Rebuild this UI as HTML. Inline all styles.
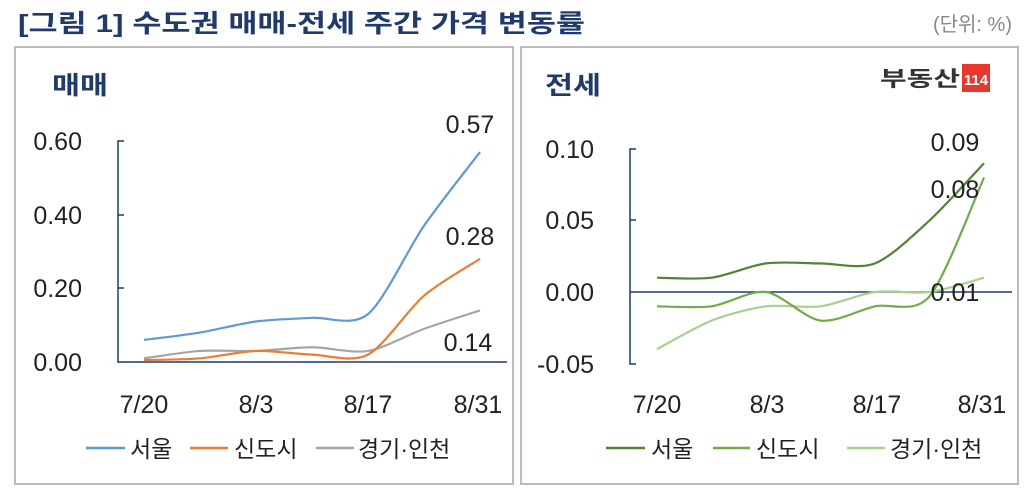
<!DOCTYPE html>
<html><head><meta charset="utf-8"><style>
body{margin:0;background:#fff;width:1024px;height:498px;overflow:hidden;font-family:"Liberation Sans","Noto Sans CJK KR",sans-serif}
svg{position:absolute;left:0;top:0}
</style></head><body>
<svg id="s" width="1024" height="498" xmlns="http://www.w3.org/2000/svg" font-family="Liberation Sans, Noto Sans CJK KR, sans-serif">
<text x="18" y="32" font-size="25" font-weight="bold" fill="#1f3a6e" textLength="567" lengthAdjust="spacingAndGlyphs">[그림 1] 수도권 매매-전세 주간 가격 변동률</text>
<text x="1012" y="31" font-size="20" fill="#888" text-anchor="end">(단위: %)</text>
<rect x="15" y="47" width="498" height="437" fill="none" stroke="#bbb" stroke-width="2"/>
<rect x="521" y="47" width="497" height="437" fill="none" stroke="#bbb" stroke-width="2"/>
<text x="52" y="94" font-size="25" font-weight="bold" fill="#1f3a6e" textLength="56" lengthAdjust="spacingAndGlyphs">매매</text>
<text x="545" y="94" font-size="25" font-weight="bold" fill="#1f3a6e" textLength="56" lengthAdjust="spacingAndGlyphs">전세</text>
<text x="880" y="86" font-size="21" font-weight="bold" fill="#333" textLength="80" lengthAdjust="spacingAndGlyphs">부동산</text>
<rect x="962" y="64" width="28" height="28" fill="#e8372c"/>
<text x="976" y="85" font-size="15" font-weight="bold" fill="#fff" text-anchor="middle">114</text>
<g font-size="25" fill="#222" text-anchor="end">
<text x="82" y="150">0.60</text><text x="82" y="224">0.40</text><text x="82" y="297">0.20</text><text x="82" y="371">0.00</text>
<text x="594" y="158">0.10</text><text x="594" y="229">0.05</text><text x="594" y="301">0.00</text><text x="594" y="373">-0.05</text>
</g>
<g font-size="25" fill="#222" text-anchor="middle">
<text x="144" y="413">7/20</text><text x="256" y="413">8/3</text><text x="368" y="413">8/17</text><text x="478" y="413">8/31</text>
<text x="657" y="413">7/20</text><text x="767" y="413">8/3</text><text x="877" y="413">8/17</text><text x="982" y="413">8/31</text>
</g>
<g stroke="#1f3a6e" stroke-width="1.5" fill="none">
<path d="M124 141H118V362H507"/>
<path d="M118 215H124M118 288H124"/>
<path d="M636 149H630V364H636M630 220H636M630 292H1012"/>
</g>
<g id="lines" fill="none" stroke-width="2.2"></g>
<g font-size="25" fill="#222" text-anchor="middle">
<text x="470" y="133">0.57</text><text x="470" y="245">0.28</text><text x="468" y="351">0.14</text>
<text x="955" y="151">0.09</text><text x="955" y="198">0.08</text><text x="955" y="301">0.01</text>
</g>
<g stroke-width="2.5">
<line x1="86" y1="448" x2="125" y2="448" stroke="#5b9bd5"/>
<line x1="190" y1="448" x2="228" y2="448" stroke="#ed7d31"/>
<line x1="316" y1="448" x2="354" y2="448" stroke="#a5a5a5"/>
<line x1="606" y1="448" x2="645" y2="448" stroke="#548235"/>
<line x1="713" y1="448" x2="750" y2="448" stroke="#70ad47"/>
<line x1="847" y1="448" x2="885" y2="448" stroke="#a9d18e"/>
</g>
<g font-size="23" fill="#222">
<text x="130" y="457">서울</text><text x="234" y="457">신도시</text><text x="358" y="457">경기·인천</text>
<text x="651" y="457">서울</text><text x="756" y="457">신도시</text><text x="890" y="457">경기·인천</text>
</g>
</svg>
<script>
function path(xs,ys){var p=[];for(var i=0;i<xs.length;i++)p.push([xs[i],ys[i]]);
var d="M"+p[0][0]+" "+p[0][1];
for(var i=0;i<p.length-1;i++){var p0=p[i-1]||p[i],p1=p[i],p2=p[i+1],p3=p[i+2]||p2;
var k=7;var c1x=p1[0]+(p2[0]-p0[0])/k,c1y=p1[1]+(p2[1]-p0[1])/k,c2x=p2[0]-(p3[0]-p1[0])/k,c2y=p2[1]-(p3[1]-p1[1])/k;
d+=" C"+c1x+" "+c1y+" "+c2x+" "+c2y+" "+p2[0]+" "+p2[1];}return d;}
var g=document.getElementById("lines");
function add(xs,vals,f,col){var e=document.createElementNS("http://www.w3.org/2000/svg","path");e.setAttribute("d",path(xs,vals.map(f)));e.setAttribute("stroke",col);g.appendChild(e);}
var lx=[],rx=[];for(var i=0;i<7;i++){lx.push(144+56*i);rx.push(657+54.5*i);}
var fl=function(v){return 362-v*368.3},fr=function(v){return 292-v*1430};
add(lx,[0.01,0.03,0.03,0.04,0.03,0.09,0.14],fl,"#a5a5a5");
add(lx,[0.005,0.01,0.03,0.02,0.02,0.18,0.28],fl,"#ed7d31");
add(lx,[0.06,0.08,0.11,0.12,0.13,0.37,0.57],fl,"#5b9bd5");
add(rx,[-0.04,-0.02,-0.01,-0.01,0.0,0.0,0.01],fr,"#a9d18e");
add(rx,[-0.01,-0.01,0.0,-0.02,-0.01,-0.003,0.08],fr,"#70ad47");
add(rx,[0.01,0.01,0.02,0.02,0.02,0.05,0.09],fr,"#548235");
</script>
</body></html>
